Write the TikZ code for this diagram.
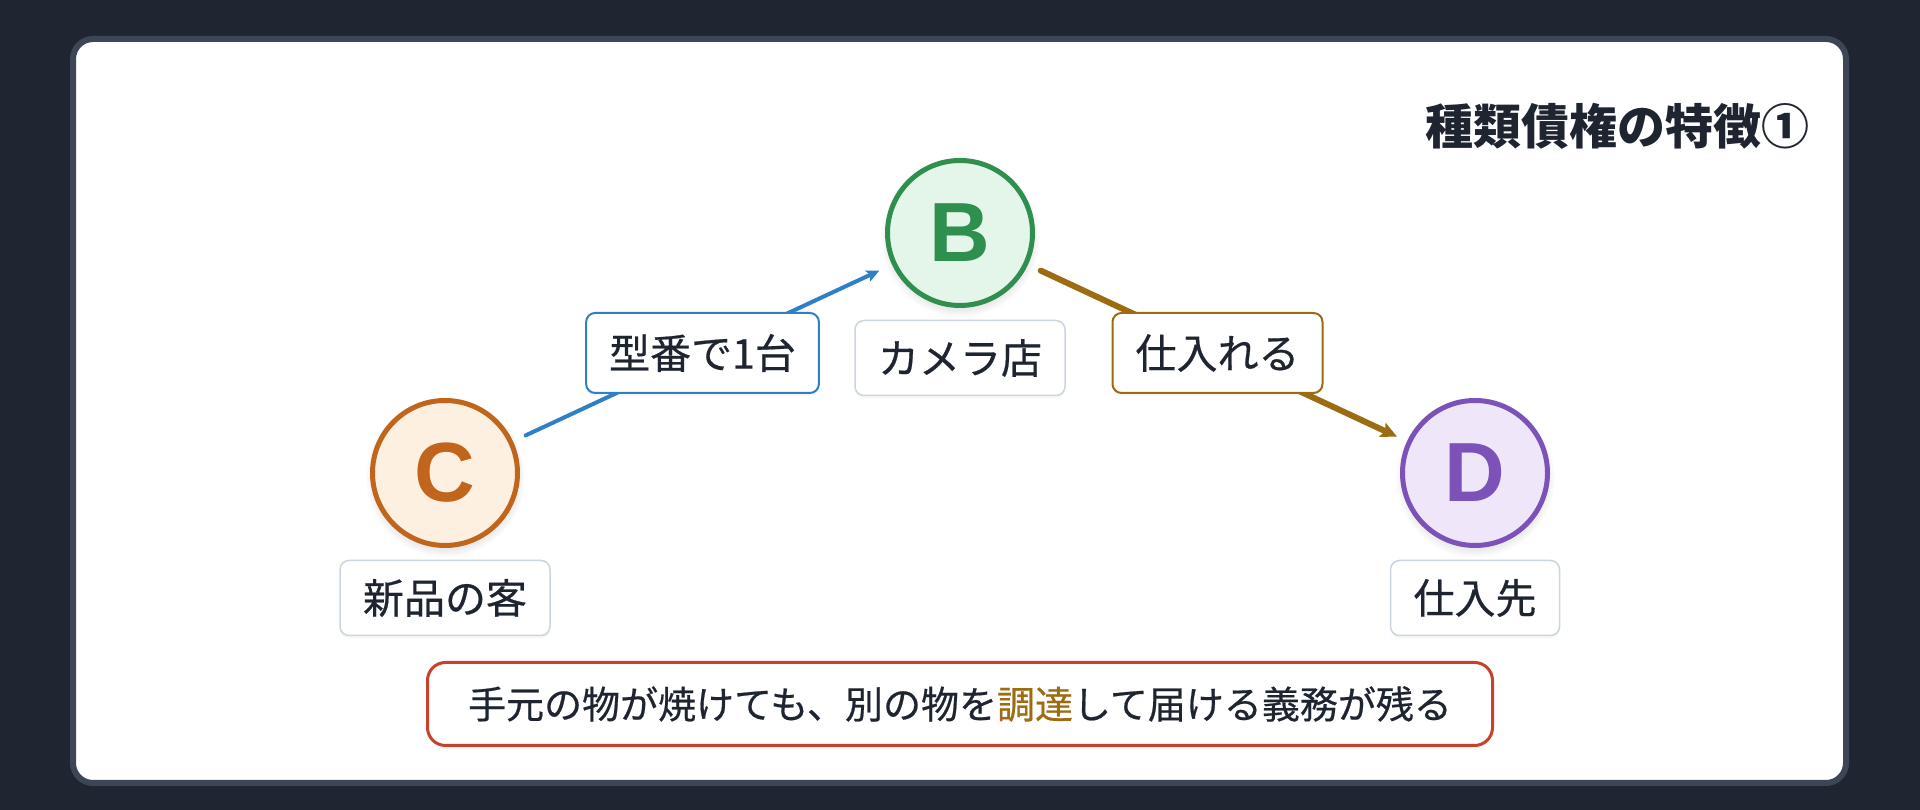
\documentclass[tikz,border=0pt]{standalone}
\usepackage{fontspec}
\setmainfont{Noto Sans CJK JP}
\newfontfamily\jpmed{Noto Sans CJK JP}[FakeBold=0.5]
\newfontfamily\latin{Liberation Sans}
\usetikzlibrary{arrows.meta,shadows}
\definecolor{bgdark}{HTML}{1F2631}
\definecolor{cardbd}{HTML}{3C4656}
\definecolor{ink}{HTML}{1E2530}
\definecolor{orst}{HTML}{C0651B}
\definecolor{orfi}{HTML}{FDF0E1}
\definecolor{grst}{HTML}{2F8F4F}
\definecolor{grfi}{HTML}{E4F5E9}
\definecolor{pust}{HTML}{7D52B8}
\definecolor{pufi}{HTML}{EFE6FA}
\definecolor{blueln}{HTML}{2F7FC7}
\definecolor{brownln}{HTML}{9C6B12}
\definecolor{redbd}{HTML}{C8412B}
\definecolor{graybd}{HTML}{CBD5E1}
\tikzset{
  person/.style={circle, line width=5pt, minimum size=145pt, inner sep=0pt,
    font=\latin\fontsize{84}{84}\selectfont\bfseries,
    circular drop shadow={shadow xshift=0pt, shadow yshift=-4pt, shadow scale=1.1, opacity=0.22}},
  plainlbl/.style={draw=graybd, line width=1.5pt, fill=white, rounded corners=9pt,
    inner xsep=23pt, inner ysep=0pt, minimum height=75pt, text=ink,
    font=\jpmed\fontsize{41}{41}\selectfont,
    drop shadow={shadow xshift=0pt, shadow yshift=-3pt, opacity=0.06}},
  edgelbl/.style={line width=2pt, fill=white, rounded corners=9pt,
    inner xsep=23pt, inner ysep=0pt, minimum height=80pt, text=ink,
    font=\jpmed\fontsize{41}{41}\selectfont,
    drop shadow={shadow xshift=0pt, shadow yshift=-3pt, opacity=0.06}},
  conn/.style={line cap=round, shorten <=14pt}
}
\begin{document}
\begin{tikzpicture}[x=1pt,y=1pt]
\useasboundingbox (0,0) rectangle (1920,810);
\fill[bgdark] (0,0) rectangle (1920,810);
\draw[cardbd, line width=6pt, fill=white, rounded corners=20pt] (73,27) rectangle (1846,771);

\node[anchor=east, inner sep=0pt, text=ink, font=\fontsize{48}{48}\selectfont\bfseries] (title) at (1810,684) {種類債権の特徴①};

\node[person, draw=grst, fill=grfi, text=grst] (B) at (960,577) {B};
\node[person, draw=orst, fill=orfi, text=orst] (C) at (445,337) {C};
\node[person, draw=pust, fill=pufi, text=pust] (D) at (1475,337) {D};

\node[plainlbl] (Blbl) at (960,452) {カメラ店};
\node[plainlbl] (Clbl) at (445,212) {新品の客};
\node[plainlbl] (Dlbl) at (1475,212) {仕入先};

\draw[conn, blueln, line width=4pt, shorten >=14pt, -{Stealth[length=13pt, width=12pt, inset=3pt]}]
  (C) -- node[edgelbl, draw=blueln] (CBlbl) {型番で1台} (B);
\draw[conn, brownln, line width=6pt, shorten >=11pt, -{Stealth[length=16pt, width=15pt, inset=3pt]}]
  (B) -- node[edgelbl, draw=brownln] (BDlbl) {仕入れる} (D);

\node[draw=redbd, line width=3pt, fill=white, rounded corners=18pt, minimum width=1065pt, minimum height=83pt, inner sep=0pt, text=ink, font=\jpmed\fontsize{38}{38}\selectfont,
  drop shadow={shadow xshift=0pt, shadow yshift=-4pt, opacity=0.07}] (note) at (960,106)
  {手元の物が焼けても、別の物を\textcolor{brownln}{調達}して届ける義務が残る};
\end{tikzpicture}
\end{document}
